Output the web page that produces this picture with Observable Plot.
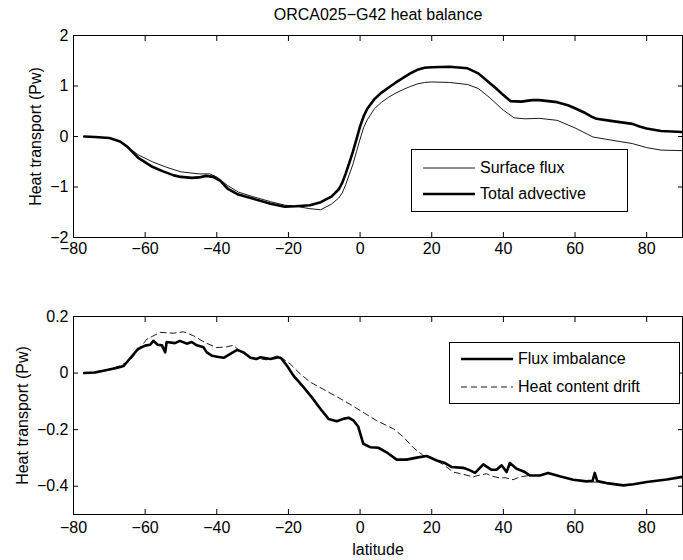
<!DOCTYPE html>
<html>
<head>
<meta charset="utf-8">
<script src="https://cdn.jsdelivr.net/npm/d3@7"></script>
<script src="https://cdn.jsdelivr.net/npm/@observablehq/plot@0.6"></script>
<style>
  html, body { margin: 0; padding: 0; background: white; }
  #page { position: relative; width: 683px; height: 560px; overflow: hidden; font-family: "Liberation Sans", Arial, Helvetica, sans-serif; color: black; }
  #title { position: absolute; left: 73px; top: 6px; width: 610px; text-align: center; font-size: 16px; line-height: 18px; }
  .panel { position: absolute; left: 0; }
  .legend { position: absolute; border: 1px solid black; background: white; box-sizing: border-box; font-size: 16px; }
  .legend .row { position: absolute; left: 0; height: 20px; line-height: 20px; white-space: nowrap; }
  .legend svg { position: absolute; left: 11px; top: 0; }
  .legend span { position: absolute; left: 68px; top: 0; }
</style>
</head>
<body>
<div id="page">
  <div id="title">ORCA025−G42 heat balance</div>
  <div id="p1" class="panel" style="top:26px"></div>
  <div id="p2" class="panel" style="top:262px"></div>
  <div id="leg1" class="legend" style="left:411px; top:149px; width:217px; height:63px;"></div>
  <div id="leg2" class="legend" style="left:449px; top:342px; width:231px; height:62px;"></div>
</div>
<script>
// ---------- data ----------
const xTicks = [-80, -60, -40, -20, 0, 20, 40, 60, 80];
const yTicksTop = [-2, -1, 0, 1, 2];
const yTicksBottom = [-0.4, -0.2, 0, 0.2];

const surfaceLat = [-77,-74,-70,-67,-65,-62,-58,-54,-50,-45,-42,-40,-37,-34,-30,-25,-21,-18,-14,-11,-8,-6,-5,-4,-3,-2,-1,0,1,2,4,6,8,10,12,14,16,18,20,25,30,33,36,40,43,46,50,55,60,65,70,76,80,84,90];
const surfaceFlux = [0,-0.01,-0.03,-0.1,-0.2,-0.36,-0.5,-0.61,-0.7,-0.74,-0.74,-0.8,-0.97,-1.1,-1.19,-1.29,-1.36,-1.38,-1.43,-1.45,-1.34,-1.22,-1.12,-0.95,-0.75,-0.55,-0.3,-0.05,0.18,0.33,0.55,0.68,0.78,0.86,0.93,0.99,1.04,1.07,1.08,1.07,1.03,0.95,0.78,0.52,0.37,0.35,0.36,0.32,0.17,-0.01,-0.07,-0.14,-0.22,-0.27,-0.28];

const advectiveLat = [-77,-74,-70,-67,-65,-62,-58,-55,-52,-50,-47,-45,-43,-41,-39,-37,-34,-30,-25,-21,-18,-14,-11,-8,-6,-5,-4,-3,-2,-1,0,1,2,4,6,8,10,12,14,16,18,20,25,30,33,36,38,40,42,45,48,50,55,58,60,63,65,66,70,73,76,78,80,84,90];
const totalAdvective = [0,-0.01,-0.03,-0.1,-0.2,-0.42,-0.6,-0.69,-0.77,-0.8,-0.82,-0.81,-0.78,-0.8,-0.88,-1.03,-1.15,-1.23,-1.33,-1.39,-1.38,-1.36,-1.3,-1.19,-1.05,-0.92,-0.73,-0.52,-0.3,-0.05,0.2,0.4,0.55,0.74,0.87,0.97,1.07,1.16,1.25,1.32,1.36,1.37,1.38,1.35,1.25,1.07,0.95,0.82,0.7,0.69,0.72,0.72,0.68,0.62,0.56,0.46,0.38,0.35,0.31,0.28,0.25,0.2,0.16,0.11,0.09];

const imbalanceLat = [-77,-74,-71,-68,-66,-64,-62,-60,-58.6,-57.7,-56.5,-55.3,-54.4,-54,-51.7,-50.3,-48.4,-47,-45.6,-43.7,-42.8,-41.3,-39.9,-38.1,-36.2,-34.3,-32.5,-30.6,-29,-27.8,-25,-22.8,-22,-20.4,-18.6,-15.8,-13.5,-11.1,-8.8,-6.5,-4.7,-3.2,-1.9,-0.5,0.9,2.8,5.1,7.4,10.2,13,15.8,18.6,21.4,23.7,25.5,28.8,30.7,32.1,34.4,36.7,38.1,39.5,40.9,41.8,43.7,46,47.4,50.2,52.5,55.7,59.5,63.2,64.9,65.5,66.2,68.8,73.5,76.3,80,85.6,90];
const fluxImbalance = [0,0.002,0.01,0.018,0.025,0.055,0.085,0.097,0.1,0.114,0.1,0.098,0.073,0.11,0.106,0.114,0.104,0.11,0.098,0.091,0.073,0.061,0.058,0.054,0.068,0.082,0.073,0.054,0.05,0.056,0.05,0.056,0.052,0.026,-0.009,-0.05,-0.085,-0.126,-0.162,-0.17,-0.162,-0.158,-0.167,-0.19,-0.25,-0.262,-0.264,-0.28,-0.306,-0.306,-0.299,-0.293,-0.309,-0.318,-0.332,-0.335,-0.344,-0.353,-0.323,-0.342,-0.342,-0.326,-0.35,-0.318,-0.338,-0.35,-0.362,-0.362,-0.353,-0.365,-0.377,-0.383,-0.381,-0.353,-0.382,-0.389,-0.397,-0.393,-0.385,-0.376,-0.367];

const driftLat = [-77,-71,-67,-64.2,-61.4,-59.5,-55.8,-52.1,-49.3,-46.5,-43.3,-40,-37.2,-35.4,-33.5,-30.7,-26,-22.8,-19.5,-16.7,-13.9,-9.3,-4.6,0,4.6,9.3,12.1,14.9,17.6,20.4,23.2,26,28.8,31.6,33.5,35.3,37,39,40.5,42.7,44.6,47.4,50.2,52.5,55.7,59.5,63.2,68.8,73.5,76.3,80,85.6,90];
const heatContentDrift = [0,0.01,0.026,0.045,0.09,0.12,0.144,0.141,0.146,0.132,0.108,0.09,0.093,0.098,0.078,0.054,0.047,0.062,0.032,-0.003,-0.032,-0.064,-0.097,-0.132,-0.168,-0.197,-0.226,-0.264,-0.291,-0.303,-0.323,-0.35,-0.358,-0.367,-0.36,-0.356,-0.365,-0.371,-0.37,-0.377,-0.367,-0.362,-0.362,-0.353,-0.365,-0.377,-0.383,-0.389,-0.397,-0.393,-0.385,-0.376,-0.367];

const titleText = "ORCA025−G42 heat balance";
const yLabel = "Heat transport (Pw)";
const xLabel = "latitude";
const legendTop = ["Surface flux", "Total advective"];
const legendBottom = ["Flux imbalance", "Heat content drift"];

// ---------- build ----------
const zip = (xs, ys) => xs.map((x, i) => ({x, y: ys[i]}));
const fmt = d3.format("~g");
const font = {fontFamily: '"Liberation Sans", Arial, Helvetica, sans-serif', fontSize: "16px", background: "white", color: "black", overflow: "visible"};

function axes(yTicks, labelOffsetY, showXLabel, xPad) {
  return [
    Plot.frame({stroke: "black", strokeWidth: 1}),
    Plot.axisX(xTicks, {anchor: "bottom", tickSize: 0, tickPadding: xPad, tickFormat: fmt,
      label: showXLabel ? xLabel : null, labelAnchor: "center", labelArrow: "none", labelOffset: 40}),
    Plot.axisX(xTicks, {anchor: "bottom", tickSize: 5, dy: -5, fill: "none", label: null}),
    Plot.axisX(xTicks, {anchor: "top", tickSize: 5, dy: 5, fill: "none", label: null}),
    Plot.axisY(yTicks, {anchor: "left", tickSize: 0, tickPadding: 5, tickFormat: fmt,
      label: yLabel, labelAnchor: "center", labelArrow: "none", labelOffset: labelOffsetY}),
    Plot.axisY(yTicks, {anchor: "left", tickSize: 5, dx: 5, fill: "none", label: null}),
    Plot.axisY(yTicks, {anchor: "right", tickSize: 5, dx: -5, fill: "none", label: null})
  ];
}

document.getElementById("title").textContent = titleText;

const chartTop = Plot.plot({
  width: 683, height: 236,
  marginTop: 9, marginBottom: 25, marginLeft: 73, marginRight: 1,
  style: font,
  x: {domain: [-80, 90]},
  y: {domain: [-2, 2]},
  marks: [
    ...axes(yTicksTop, 44, false, 5),
    Plot.line(zip(surfaceLat, surfaceFlux), {x: "x", y: "y", stroke: "black", strokeWidth: 0.9}),
    Plot.line(zip(advectiveLat, totalAdvective), {x: "x", y: "y", stroke: "black", strokeWidth: 2.6})
  ]
});
document.getElementById("p1").appendChild(chartTop);

const chartBottom = Plot.plot({
  width: 683, height: 298,
  marginTop: 54, marginBottom: 46, marginLeft: 73, marginRight: 1,
  style: font,
  x: {domain: [-80, 90]},
  y: {domain: [-0.5, 0.2]},
  marks: [
    ...axes(yTicksBottom, 57, true, 7),
    Plot.line(zip(driftLat, heatContentDrift), {x: "x", y: "y", stroke: "black", strokeWidth: 0.9, strokeDasharray: "6,4"}),
    Plot.line(zip(imbalanceLat, fluxImbalance), {x: "x", y: "y", stroke: "black", strokeWidth: 2.6})
  ]
});
document.getElementById("p2").appendChild(chartBottom);

function legend(id, labels, styles, rows, lineLen) {
  const el = document.getElementById(id);
  labels.forEach((lab, i) => {
    const row = document.createElement("div");
    row.className = "row";
    row.style.top = (rows[i] - 10) + "px";
    row.style.width = "100%";
    const s = styles[i];
    row.innerHTML = `<svg width="${lineLen}" height="20"><line x1="0" x2="${lineLen}" y1="10" y2="10" stroke="black" stroke-width="${s.w}" ${s.dash ? `stroke-dasharray="${s.dash}"` : ""}/></svg><span>${lab}</span>`;
    el.appendChild(row);
  });
}
legend("leg1", legendTop, [{w: 0.9}, {w: 2.6}], [18, 44], 52);
legend("leg2", legendBottom, [{w: 2.6}, {w: 0.9, dash: "6,4"}], [16, 44], 52);
</script>
</body>
</html>
